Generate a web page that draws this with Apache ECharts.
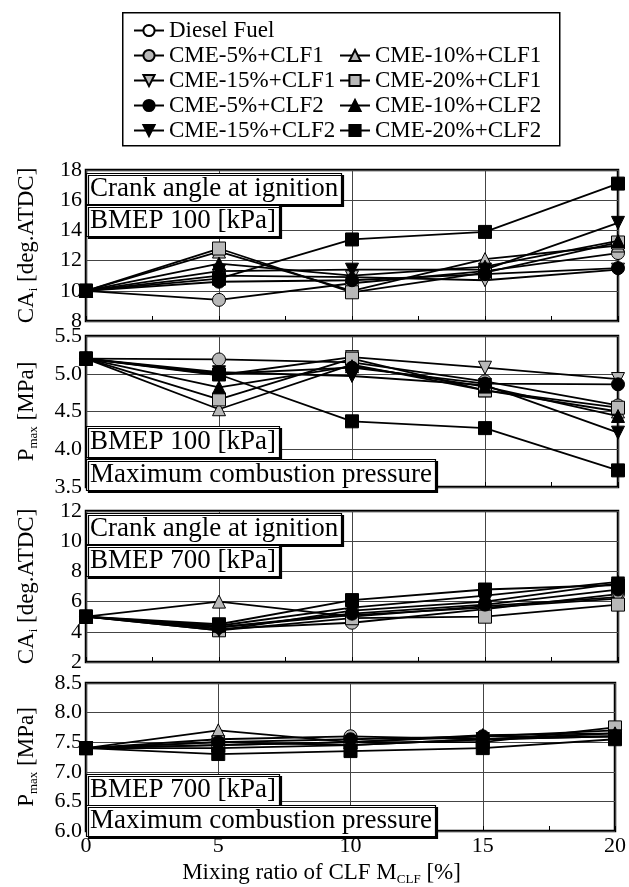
<!DOCTYPE html>
<html>
<head>
<meta charset="utf-8">
<script src="https://cdn.jsdelivr.net/npm/echarts@6/dist/echarts.min.js"></script>
<style>
  html, body { margin: 0; padding: 0; background: #fff; }
  #chart-container { width: 629px; height: 887px; }
</style>
</head>
<body>
<div id="chart-container"></div>
<script>
var dom = document.getElementById('chart-container');
var myChart = echarts.init(dom, null, { renderer: 'canvas' });

// mixing ratio of CLF [%]
const mixRatio = [0, 5, 10, 15, 20];

const fuelNames = [
  'Diesel Fuel',
  'CME-5%+CLF1', 'CME-10%+CLF1', 'CME-15%+CLF1', 'CME-20%+CLF1',
  'CME-5%+CLF2', 'CME-10%+CLF2', 'CME-15%+CLF2', 'CME-20%+CLF2'
];

// rows follow fuelNames; diesel only has the 0 % point
const caIgn100 = [
  [10.0],
  [10.0, 9.4, 10.5, 11.3, 12.5],
  [10.0, 12.6, 10.0, 12.1, 13.0],
  [10.0, 11.0, 10.9, 10.7, 11.4],
  [10.0, 12.8, 9.9, 11.2, 13.2],
  [10.0, 10.6, 10.7, 11.1, 11.5],
  [10.0, 11.8, 11.0, 11.6, 13.3],
  [10.0, 11.3, 11.4, 11.4, 14.5],
  [10.0, 10.8, 13.4, 13.9, 17.1]
];

const pmax100 = [
  [5.2],
  [5.2, 5.19, 5.15, 4.90, 4.58],
  [5.2, 4.53, 5.12, 4.78, 4.50],
  [5.2, 4.98, 5.22, 5.08, 4.93],
  [5.2, 4.66, 5.20, 4.78, 4.55],
  [5.2, 5.00, 5.08, 4.87, 4.86],
  [5.2, 4.82, 5.10, 4.83, 4.44],
  [5.2, 5.02, 4.97, 4.85, 4.22],
  [5.2, 4.99, 4.37, 4.28, 3.72]
];

const caIgn700 = [
  [5.0],
  [5.0, 4.2, 4.6, 5.5, 6.5],
  [5.0, 6.0, 5.0, 5.7, 6.3],
  [5.0, 4.3, 5.1, 5.6, 6.2],
  [5.0, 4.1, 4.9, 5.0, 5.8],
  [5.0, 4.3, 5.2, 5.8, 6.8],
  [5.0, 4.4, 5.6, 6.4, 7.3],
  [5.0, 4.1, 5.4, 6.0, 7.2],
  [5.0, 4.5, 6.1, 6.8, 7.1]
];

const pmax700 = [
  [7.4],
  [7.4, 7.55, 7.60, 7.55, 7.65],
  [7.4, 7.70, 7.50, 7.60, 7.70],
  [7.4, 7.50, 7.45, 7.55, 7.60],
  [7.4, 7.45, 7.50, 7.50, 7.75],
  [7.4, 7.50, 7.55, 7.60, 7.60],
  [7.4, 7.45, 7.50, 7.62, 7.65],
  [7.4, 7.40, 7.45, 7.55, 7.60],
  [7.4, 7.30, 7.35, 7.40, 7.55]
];

// y axis ranges: [min, max, interval]
const yRanges = [[8, 18, 2], [3.5, 5.5, 0.5], [2, 12, 2], [6.0, 8.5, 0.5]];
const yDecimals = [0, 1, 0, 1];

const FONT = '"Liberation Serif", "Times New Roman", serif';
const GREY = '#b8b8b8';

const markers = [
  { symbol: 'circle', rotate: 0, fill: '#fff' },
  { symbol: 'circle', rotate: 0, fill: GREY },
  { symbol: 'triangle', rotate: 0, fill: GREY },
  { symbol: 'triangle', rotate: 180, fill: GREY },
  { symbol: 'rect', rotate: 0, fill: GREY },
  { symbol: 'circle', rotate: 0, fill: '#000' },
  { symbol: 'triangle', rotate: 0, fill: '#000' },
  { symbol: 'triangle', rotate: 180, fill: '#000' },
  { symbol: 'rect', rotate: 0, fill: '#000' }
];

const panels = [caIgn100, pmax100, caIgn700, pmax700];
const gridTops = [170, 336, 511, 683];

const nameRich = {
  t: { fontFamily: FONT, fontSize: 23, fontWeight: 'normal', color: '#000', lineHeight: 26 },
  s: { fontFamily: FONT, fontSize: 13, fontWeight: 'normal', color: '#000', lineHeight: 8, verticalAlign: 'bottom' }
};
const yNames = [
  '{t|CA}{s|i}{t| [deg.ATDC]}',
  '{t|P}{s|max}{t| [MPa]}',
  '{t|CA}{s|i}{t| [deg.ATDC]}',
  '{t|P}{s|max}{t| [MPa]}'
];

var grids = [], xAxes = [], yAxes = [], series = [];

panels.forEach(function (rows, p) {
  grids.push({
    left: 86, right: 11, top: gridTops[p], height: 151,
    show: true, borderColor: '#000', borderWidth: 2.5, backgroundColor: 'transparent'
  });
  xAxes.push({
    gridIndex: p, type: 'value', min: 0, max: 20, interval: 5,
    axisLine: { show: false },
    axisTick: { show: true, inside: true, length: 5, lineStyle: { color: '#000' } },
    minorTick: { show: true, splitNumber: 2, length: 5, lineStyle: { color: '#000' } },
    splitLine: { show: true, lineStyle: { color: '#444', width: 1 } },
    axisLabel: {
      show: p === 3, color: '#000', fontFamily: FONT, fontSize: 22, margin: 4,
      padding: [0, 0, 0, 0]
    },
    name: p === 3 ? '{t|Mixing ratio of CLF M}{s|CLF}{t| [%]}' : '',
    nameLocation: 'middle', nameGap: 29,
    nameTextStyle: { fontFamily: FONT, fontSize: 23, color: '#000', rich: nameRich, padding: [0, 58, 0, 0] }
  });
  yAxes.push({
    gridIndex: p, type: 'value',
    min: yRanges[p][0], max: yRanges[p][1], interval: yRanges[p][2],
    axisLine: { show: false },
    axisTick: { show: false },
    splitLine: { show: true, lineStyle: { color: '#444', width: 1 } },
    axisLabel: {
      color: '#000', fontFamily: FONT, fontSize: 22, margin: 4,
      formatter: function (v) { return v.toFixed(yDecimals[p]); }
    },
    name: yNames[p], nameLocation: 'middle', nameRotate: 90, nameGap: 46,
    nameTextStyle: { fontFamily: FONT, fontSize: 23, color: '#000', rich: nameRich }
  });
  rows.forEach(function (vals, i) {
    series.push({
      type: 'line', name: fuelNames[i],
      xAxisIndex: p, yAxisIndex: p,
      data: vals.map(function (v, j) { return [mixRatio[j], v]; }),
      symbol: markers[i].symbol, symbolRotate: markers[i].rotate, symbolSize: 13,
      showAllSymbol: true,
      itemStyle: { color: markers[i].fill, borderColor: '#000', borderWidth: 1 },
      lineStyle: { color: '#000', width: 1.8 },
      emphasis: { disabled: true },
      clip: false,
      z: 3 + i
    });
  });
});

function box(text, top) {
  return {
    text: text, left: 86, top: top,
    padding: [1, 4, 1, 4],
    backgroundColor: '#fff', borderColor: '#000', borderWidth: 1.2,
    shadowColor: '#000', shadowOffsetX: 2, shadowOffsetY: 2, shadowBlur: 0.1,
    textStyle: { fontFamily: FONT, fontSize: 27, fontWeight: 'normal', color: '#000', lineHeight: 30 }
  };
}

var legendText = { fontFamily: FONT, fontSize: 23, color: '#000', lineHeight: 25 };

option = {
  animation: false,
  backgroundColor: '#fff',
  title: [
    box('Crank angle at ignition', 173),
    box('BMEP 100 [kPa]', 205),
    box('BMEP 100 [kPa]', 426),
    box('Maximum combustion pressure', 459),
    box('Crank angle at ignition', 513),
    box('BMEP 700 [kPa]', 545),
    box('BMEP 700 [kPa]', 774),
    box('Maximum combustion pressure', 805)
  ],
  graphic: [{
    type: 'rect', left: 122, top: 12, z: 0,
    shape: { width: 437, height: 133 },
    style: { fill: '#fff', stroke: '#000', lineWidth: 1.5 }
  }],
  legend: [{
    orient: 'vertical', left: 133, top: 18, padding: 0, itemGap: 0,
    itemWidth: 30, itemHeight: 14, textStyle: legendText,
    data: [fuelNames[0], fuelNames[1], fuelNames[3], fuelNames[5], fuelNames[7]]
  }, {
    orient: 'vertical', left: 339, top: 43, padding: 0, itemGap: 0,
    itemWidth: 30, itemHeight: 14, textStyle: legendText,
    data: [fuelNames[2], fuelNames[4], fuelNames[6], fuelNames[8]]
  }],
  grid: grids,
  xAxis: xAxes,
  yAxis: yAxes,
  series: series
};

if (option && typeof option === 'object') {
  myChart.setOption(option);
}

window.addEventListener('resize', myChart.resize);
</script>
</body>
</html>
